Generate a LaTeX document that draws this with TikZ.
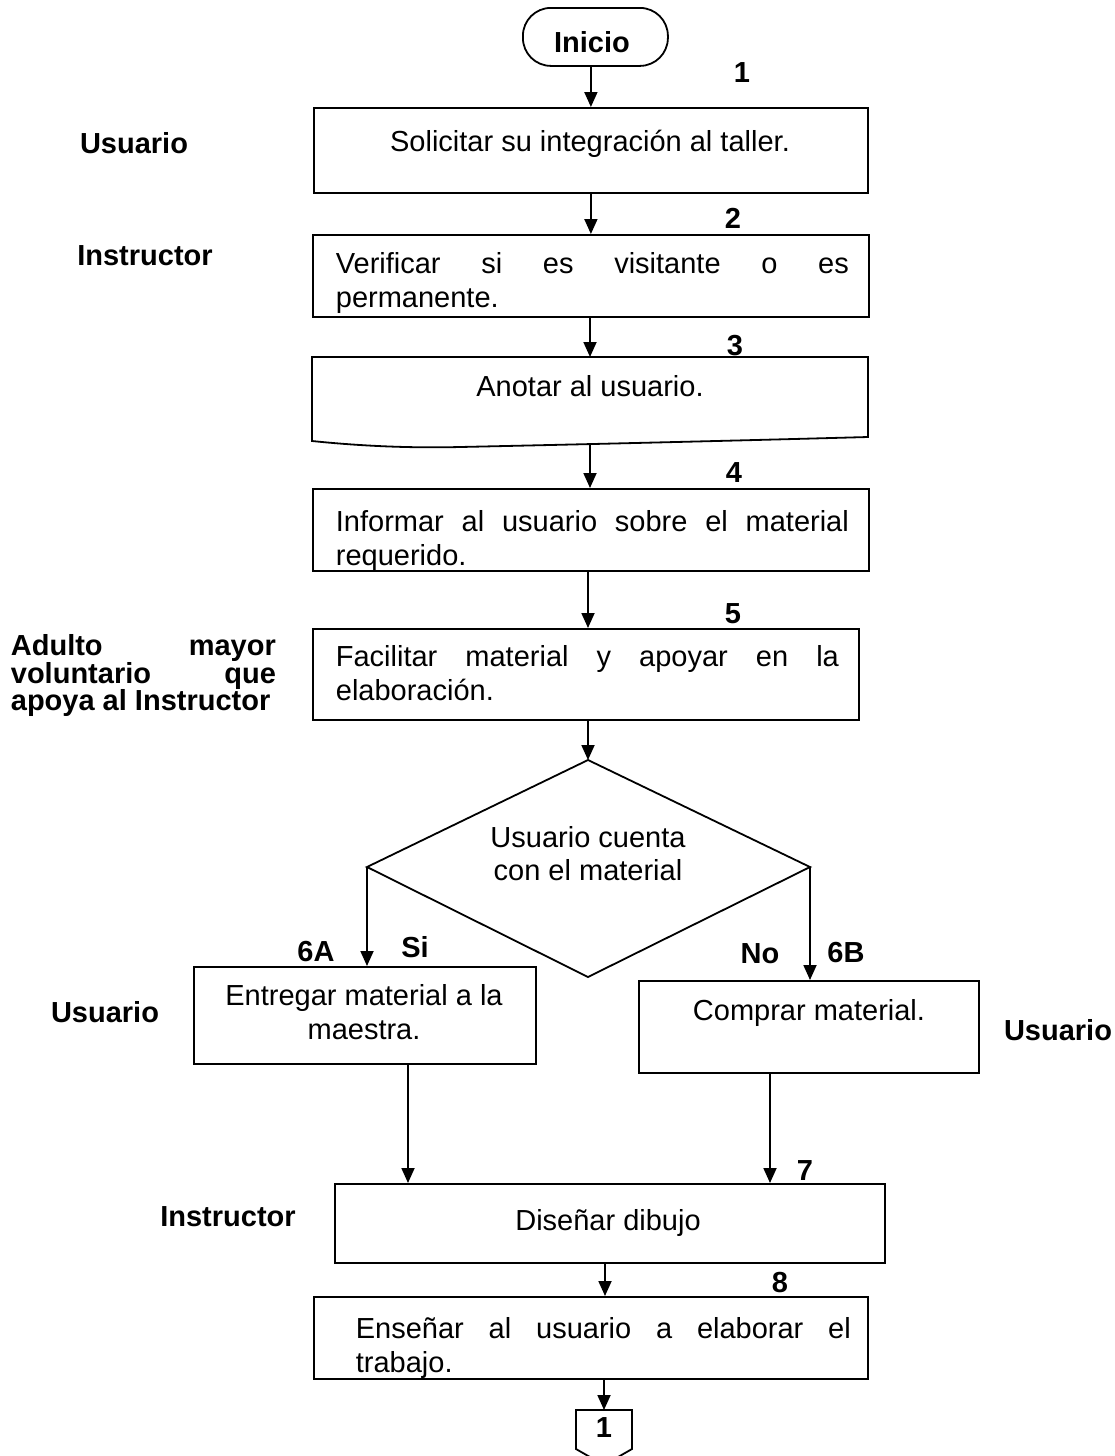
\documentclass[tikz,border=0pt]{standalone}
\usepackage{fontspec}
\setmainfont{Liberation Sans}
\usetikzlibrary{arrows.meta,calc}
\begin{document}
\begin{tikzpicture}[x=1pt,y=-1pt,
  line width=1.8pt,
  stepbox/.style={draw, anchor=north west, inner sep=0pt},
  txt/.style={inner sep=0pt, anchor=base, font=\fontsize{29}{34}\selectfont},
  txtl/.style={inner sep=0pt, anchor=base west, font=\fontsize{29}{34}\selectfont},
  lbl/.style={inner sep=0pt, anchor=base, font=\fontsize{29}{34}\selectfont\bfseries},
  lbll/.style={inner sep=0pt, anchor=base west, font=\fontsize{29}{34}\selectfont\bfseries},
  arr/.style={-{Triangle[width=13pt,length=15pt]}}
]
\clip (0,0) rectangle (1115,1456);
\fill[white] (0,0) rectangle (1115,1456);

% start terminator
\node[draw, rounded corners=28pt, minimum width=145pt, minimum height=58pt, inner sep=0pt, anchor=north west] (ini) at (522,7) {};
\node[lbl] (tini) at (592,52) {Inicio};

% boxes
\node[stepbox, minimum width=554pt, minimum height=85pt] (b1) at (313,107) {};
\node[stepbox, minimum width=556pt, minimum height=82pt] (b2) at (312,234) {};
\draw (312,357) -- (868,357) -- (868,437)
      .. controls (760,440) and (600,444) .. (460,447)
      .. controls (420,448) and (370,447) .. (312,441) -- cycle;
\coordinate (b3n) at (590,357);
\coordinate (b3s) at (590,445);
\node[stepbox, minimum width=556pt, minimum height=82pt] (b4) at (312,488) {};
\node[stepbox, minimum width=546pt, minimum height=91pt] (b5) at (312,628) {};

% decision
\coordinate (dT) at (588,760);
\coordinate (dL) at (367,867);
\coordinate (dR) at (810,867);
\coordinate (dB) at (588,977);
\draw (dT) -- (dR) -- (dB) -- (dL) -- cycle;

\node[stepbox, minimum width=342pt, minimum height=97pt] (b6a) at (193,966) {};
\node[stepbox, minimum width=340pt, minimum height=92pt] (b6b) at (638,980) {};
\node[stepbox, minimum width=550pt, minimum height=79pt] (b7) at (334,1183) {};
\node[stepbox, minimum width=554pt, minimum height=82pt] (b8) at (313,1296) {};

% off-page connector
\draw (576,1410) -- (632,1410) -- (632,1449) -- (604,1465) -- (576,1449) -- cycle;
\coordinate (cn) at (604,1410);
\node[lbl] (tcn) at (604,1437) {1};

% box texts
\node[txt] (t1) at (590,151) {Solicitar su integración al taller.};
\node[txtl] (t2a) at (335,273) {\makebox[513pt][s]{Verificar si es visitante o es}};
\node[txtl] (t2b) at (335,307) {permanente.};
\node[txt] (t3) at (590,396) {Anotar al usuario.};
\node[txtl] (t4a) at (335,531) {\makebox[513pt][s]{Informar al usuario sobre el material}};
\node[txtl] (t4b) at (335,565) {requerido.};
\node[txtl] (t5a) at (335,666) {\makebox[503pt][s]{Facilitar material y apoyar en la}};
\node[txtl] (t5b) at (335,700) {elaboración.};
\node[txt] (td1) at (588,847) {Usuario cuenta};
\node[txt] (td2) at (588,880) {con el material};
\node[txt] (t6a1) at (364,1005) {Entregar material a la};
\node[txt] (t6a2) at (364,1039) {maestra.};
\node[txt] (t6b) at (809,1020) {Comprar material.};
\node[txt] (t7) at (608,1230) {Diseñar dibujo};
\node[txtl] (t8a) at (355,1338) {\makebox[495pt][s]{Enseñar al usuario a elaborar el}};
\node[txtl] (t8b) at (355,1372) {trabajo.};

% step numbers
\node[lbl] (n1) at (742,82) {1};
\node[lbl] (n2) at (733,228) {2};
\node[lbl] (n3) at (735,355) {3};
\node[lbl] (n4) at (734,482) {4};
\node[lbl] (n5) at (733,623) {5};
\node[lbl] (n6a) at (316,961) {6A};
\node[lbl] (nsi) at (415,957) {Si};
\node[lbl] (nno) at (760,963) {No};
\node[lbl] (n6b) at (846,962) {6B};
\node[lbl] (n7) at (805,1180) {7};
\node[lbl] (n8) at (780,1292) {8};

% role labels
\node[lbl] (r1) at (134,153) {Usuario};
\node[lbl] (r2) at (145,265) {Instructor};
\node[lbll] (r5a) at (10,655) {\makebox[265pt][s]{Adulto mayor}};
\node[lbll] (r5b) at (10,683) {\makebox[265pt][s]{voluntario que}};
\node[lbll] (r5c) at (10,710) {apoya al Instructor};
\node[lbl] (r6a) at (105,1022) {Usuario};
\node[lbl] (r6b) at (1058,1040) {Usuario};
\node[lbl] (r7) at (228,1226) {Instructor};

% connectors
\coordinate (a7l) at (408,1183);
\coordinate (a7r) at (770,1183);
\coordinate (a8) at (605,1296);
\draw[arr] (ini.south -| b1.north) -- (b1.north);
\draw[arr] (b1.south) -- (b1.south |- b2.north);
\draw[arr] (b2.south -| b3n) -- (b3n);
\draw[arr] (b3s) -- (b3s |- b4.north);
\draw[arr] (b4.south -| dT) -- (b5.north -| dT);
\draw[arr] (b5.south -| dT) -- (dT);
\draw[arr] (dL) -- (dL |- b6a.north);
\draw[arr] (dR) -- (dR |- b6b.north);
\draw[arr] (b6a.south -| a7l) -- (a7l);
\draw[arr] (b6b.south -| a7r) -- (a7r);
\draw[arr] (b7.south -| a8) -- (a8);
\draw[arr] (b8.south -| cn) -- (cn);
\end{tikzpicture}
\end{document}
